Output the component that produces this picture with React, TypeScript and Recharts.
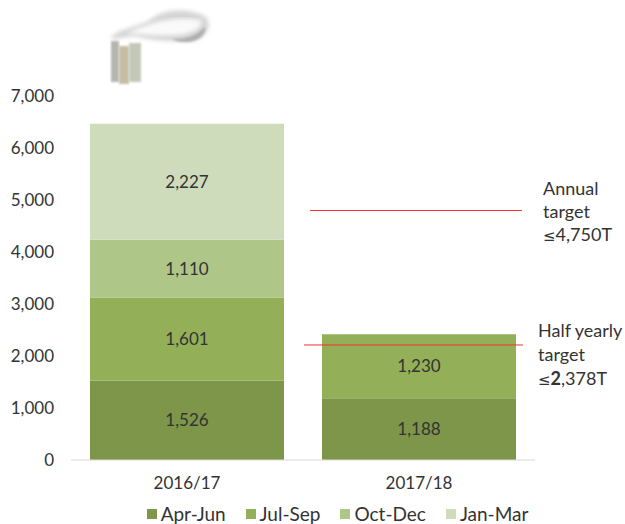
import React from 'react';
import { BarChart, Bar, XAxis, YAxis, Legend, LabelList, ReferenceLine } from 'recharts';

const years = ['2016/17', '2017/18'];
const aprJun = [1526, 1188];
const julSep = [1601, 1230];
const octDec = [1110, null];
const janMar = [2227, null];
const yTicks = [0, 1000, 2000, 3000, 4000, 5000, 6000, 7000];

const annualTarget = 4798;
const halfTarget = 2212;

const data = years.map((year, i) => ({
  year,
  aprJun: aprJun[i],
  julSep: julSep[i],
  octDec: octDec[i],
  janMar: janMar[i],
}));

const FONT = 'Lato, "Open Sans", sans-serif';
const TEXT = '#333333';

const series = [
  { key: 'aprJun', name: 'Apr-Jun', color: '#7d9649' },
  { key: 'julSep', name: 'Jul-Sep', color: '#93b058' },
  { key: 'octDec', name: 'Oct-Dec', color: '#aec688' },
  { key: 'janMar', name: 'Jan-Mar', color: '#cfdcbc' },
];

const ChartLegend = () => (
  <div style={{ display: 'flex', justifyContent: 'center', gap: 20, fontFamily: FONT, fontSize: 19, color: TEXT, height: 24, lineHeight: '24px' }}>
    {series.map((s) => (
      <span key={s.key} style={{ display: 'flex', alignItems: 'center', gap: 4 }}>
        <span style={{ width: 10, height: 10, background: s.color, display: 'inline-block' }} />
        {s.name}
      </span>
    ))}
  </div>
);

// decorative smokestacks above the first bar
const Factory = () => (
  <svg width={130} height={90} style={{ position: 'absolute', left: 100, top: 0 }}>
    <defs>
      <filter id="soft"><feGaussianBlur stdDeviation="0.8" /></filter>
      <filter id="smoke"><feGaussianBlur stdDeviation="2" /></filter>
    </defs>
    <path d="M10 38 C20 28 36 28 50 20 C64 8 90 8 106 17 C111 24 109 34 97 40 C75 43 50 40 34 36 C24 37 16 40 10 38 Z" fill="#d4d4d4" filter="url(#smoke)" />
    <path d="M26 33 C44 27 64 15 101 20 C103 26 96 33 78 35 C60 36 42 35 26 33 Z" fill="#fafafa" filter="url(#smoke)" />
    <path d="M72 39 C86 39 96 36 105 27 C107 34 98 42 86 42 C80 42 75 41 72 39 Z" fill="#b0b0b0" filter="url(#soft)" />
    <rect x={11} y={41} width={8} height={41} fill="#b4b6b0" filter="url(#soft)" />
    <rect x={19} y={46} width={10} height={38} fill="#c6bda5" filter="url(#soft)" />
    <rect x={29} y={43} width={12} height={39} fill="#c3c8b8" filter="url(#soft)" />
  </svg>
);

const note: React.CSSProperties = {
  position: 'absolute',
  fontFamily: FONT,
  fontSize: 18,
  lineHeight: '23px',
  color: TEXT,
  whiteSpace: 'nowrap',
};

const Le = () => <span style={{ fontFamily: '"DejaVu Sans"', fontSize: 15 }}>≤</span>;

export default function App() {
  return (
    <div style={{ position: 'absolute', left: 0, top: 0, width: 625, height: 524, background: '#fff' }}>
      <BarChart
        width={625}
        height={524}
        data={data}
        barCategoryGap={19}
        margin={{ top: 96, right: 90, bottom: 10, left: 0 }}
      >
        <XAxis
          dataKey="year"
          tickLine={false}
          axisLine={{ stroke: '#d9d9d9' }}
          tick={{ fill: TEXT, fontSize: 17, fontFamily: FONT }}
          tickMargin={11}
        />
        <XAxis xAxisId="span" type="number" domain={[0, 1]} hide />
        <YAxis
          width={71}
          domain={[0, 7000]}
          ticks={yTicks}
          axisLine={false}
          tickLine={false}
          interval={0}
          tickFormatter={(v: number) => v.toLocaleString('en-US')}
          tick={{ fill: TEXT, fontSize: 17, fontFamily: FONT }}
          tickMargin={11}
        />
        {series.map((s) => (
          <Bar key={s.key} dataKey={s.key} name={s.name} stackId="a" fill={s.color} isAnimationActive={false}>
            <LabelList
              dataKey={s.key}
              position="center"
              formatter={(v: any) => (v == null ? '' : v.toLocaleString('en-US'))}
              style={{ fill: TEXT, fontSize: 17, fontFamily: FONT }}
            />
          </Bar>
        ))}
        <ReferenceLine
          xAxisId="span"
          segment={[{ x: 0.515, y: annualTarget }, { x: 0.972, y: annualTarget }]}
          stroke="#f23030"
          strokeWidth={1}
        />
        <ReferenceLine
          xAxisId="span"
          segment={[{ x: 0.502, y: halfTarget }, { x: 0.974, y: halfTarget }]}
          stroke="#f23030"
          strokeWidth={1}
        />
        <Legend
          content={<ChartLegend />}
          verticalAlign="bottom"
          wrapperStyle={{ left: 0, width: 675, bottom: -2 }}
        />
      </BarChart>
      <Factory />
      <div style={{ ...note, left: 543, top: 177 }}>Annual<br />target<br /><Le />4,750T</div>
      <div style={{ ...note, left: 538, top: 318, lineHeight: '24px' }}>Half yearly<br />target<br /><Le /><b>2</b>,378T</div>
    </div>
  );
}
